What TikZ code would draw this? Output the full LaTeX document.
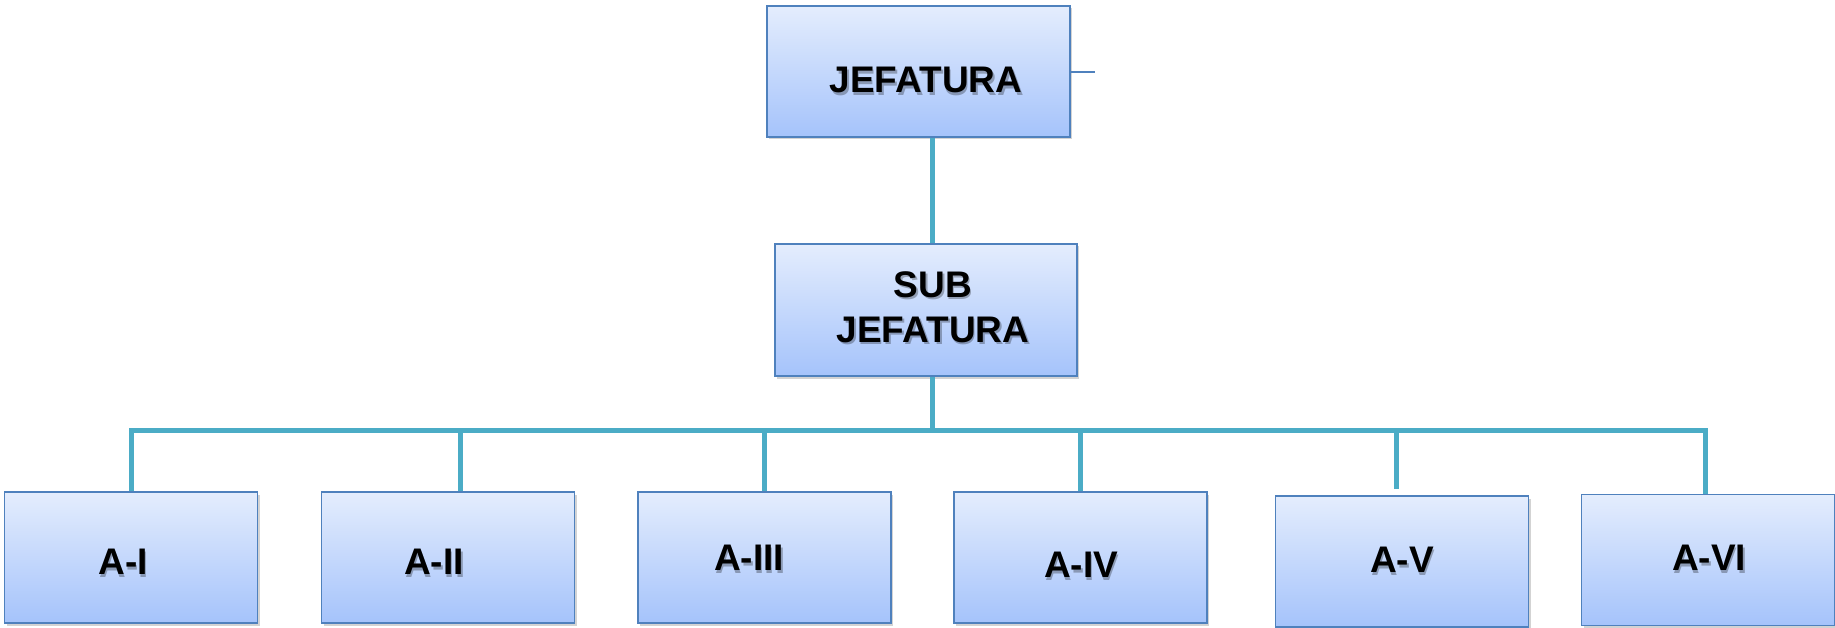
\documentclass[tikz,border=0pt]{standalone}
\usepackage{fontspec}
\setmainfont{Liberation Sans}
\usetikzlibrary{shadows}
\definecolor{boxedge}{HTML}{4F81BD}
\definecolor{boxtop}{HTML}{E4EDFD}
\definecolor{boxbot}{HTML}{A5C3FB}
\definecolor{wire}{HTML}{4BACC6}
\tikzset{
  orgbox/.style={draw=boxedge, line width=1.6pt, top color=boxtop, bottom color=boxbot,
    minimum width=253pt, minimum height=131pt, inner sep=0pt,
    drop shadow={opacity=0.35, shadow xshift=2pt, shadow yshift=-2.5pt}},
  boxtext/.style={font=\bfseries\fontsize{37}{45}\selectfont, align=center, text=black},
  textshade/.style={boxtext, text=black, text opacity=0.28, xshift=1.5pt, yshift=-2.5pt},
  wireline/.style={draw=wire, line width=5pt},
  thinline/.style={draw=boxedge, line width=1.4pt}
}
\newcommand{\orgtext}[3]{%
  \node[textshade] (s#1) at #2 {#3};
  \node[boxtext] (#1) at #2 {#3};}
\begin{document}
\begin{tikzpicture}[x=1pt,y=-1pt]
\useasboundingbox (0,0) rectangle (1835,628);
% top boxes
\node[orgbox, minimum width=303pt] (jef) at (918.5,71.5) {};
\node[orgbox, minimum width=302pt, minimum height=132pt] (sub) at (926,310) {};
% children
\node[orgbox] (a1) at (131,557.5) {};
\node[orgbox] (a2) at (448,557.5) {};
\node[orgbox] (a3) at (764.5,557.5) {};
\node[orgbox] (a4) at (1080.5,557.5) {};
\node[orgbox] (a5) at (1402,561.5) {};
\node[orgbox] (a6) at (1708,560) {};
% texts
\orgtext{tjef}{(926,80)}{JEFATURA}
\orgtext{tsub}{(933,307)}{SUB\\JEFATURA}
\orgtext{t1}{(123,562)}{A-I}
\orgtext{t2}{(434,562)}{A-II}
\orgtext{t3}{(749,558)}{A-III}
\orgtext{t4}{(1081,565)}{A-IV}
\orgtext{t5}{(1402,560)}{A-V}
\orgtext{t6}{(1709,558)}{A-VI}
% wiring
\coordinate (trunk) at (932,430);
\coordinate (busL) at (131,430);
\coordinate (busR) at (1705,430);
\coordinate (stub) at (1095,72);
\draw[thinline] (jef.east |- stub) -- (stub);
\draw[wireline] (jef.south -| trunk) -- (sub.north -| trunk);
\draw[wireline] (sub.south -| trunk) -- (trunk);
\draw[wireline] (a1.north) -- (busL) -- (busR) -- (a6.north -| busR);
\draw[wireline] ([xshift=12pt]a2.north) -- ([xshift=12pt]a2.north |- busL);
\draw[wireline] (a3.north) -- (a3.north |- busL);
\draw[wireline] (a4.north) -- (a4.north |- busL);
\draw[wireline] ([xshift=-6pt,yshift=6pt]a5.north) -- ([xshift=-6pt]a5.north |- busL);
\end{tikzpicture}
\end{document}
